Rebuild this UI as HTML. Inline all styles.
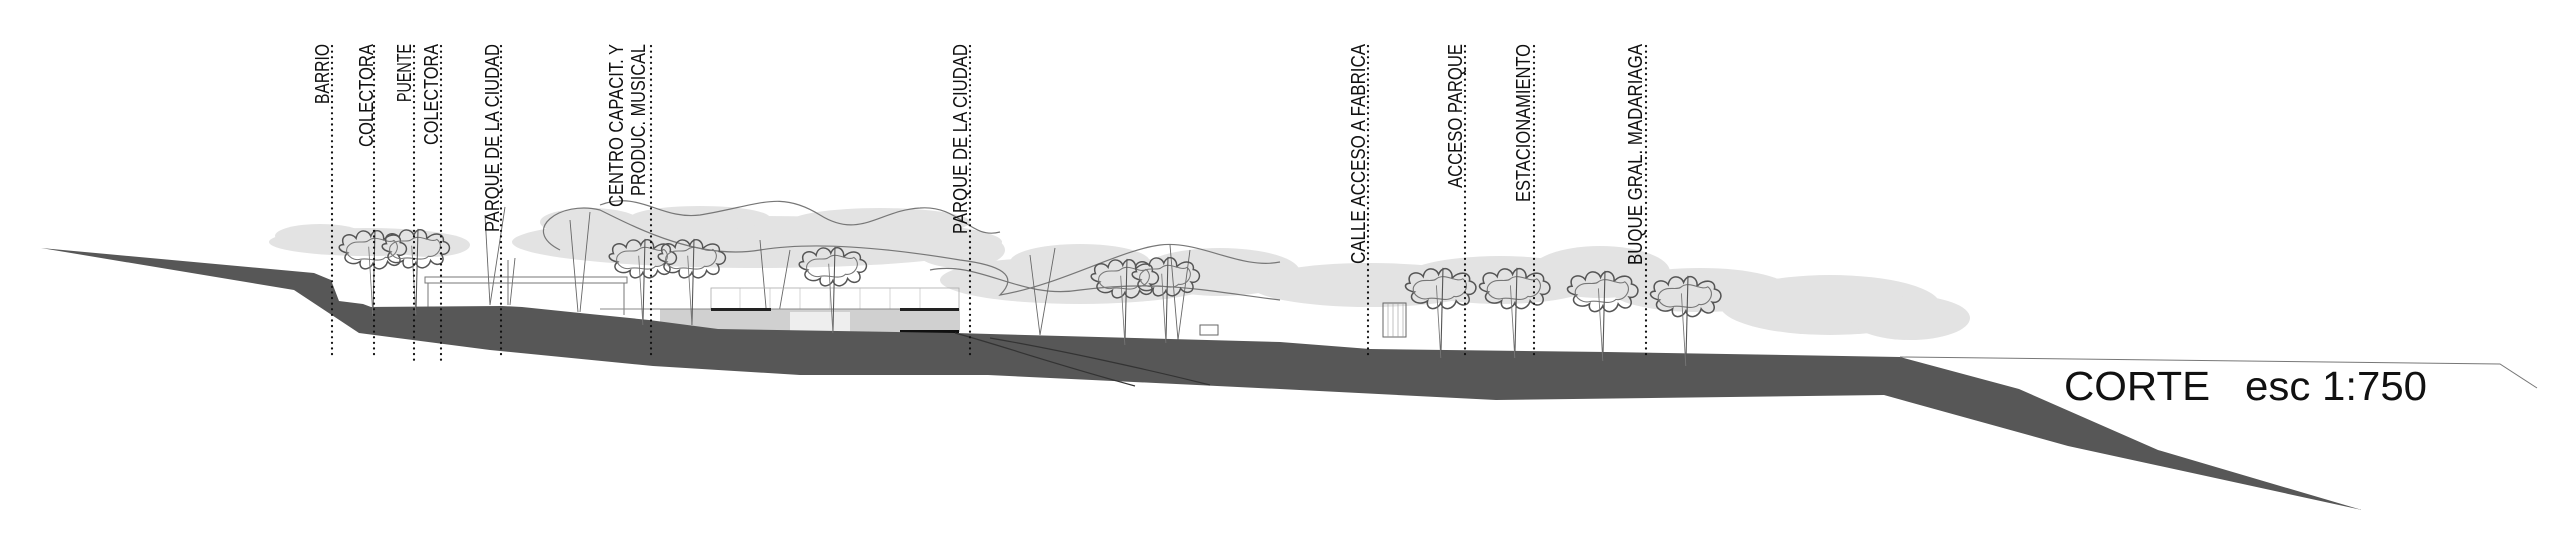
<!DOCTYPE html>
<html><head><meta charset="utf-8"><style>
html,body{margin:0;padding:0;background:#fff;}
svg{display:block}
.lb{font-family:"Liberation Sans",sans-serif;font-size:20px;fill:#111;}
</style></head><body>
<svg width="2560" height="555" viewBox="0 0 2560 555" xmlns="http://www.w3.org/2000/svg">
<defs>
<g id="tr">
<path d="M-30,-8 C-34,-18 -22,-20 -18,-14 C-16,-24 -6,-22 -4,-16 C0,-26 10,-20 8,-12 C14,-20 26,-18 24,-10 C34,-8 30,4 22,2 C28,10 18,16 12,8 C10,16 0,18 -2,10 C-6,18 -16,16 -14,8 C-22,14 -34,6 -26,0 C-36,-2 -36,-8 -30,-8 Z" fill="none" stroke="#555" stroke-width="1.4"/>
<path d="M-26,-6 C-20,-14 -10,-8 -6,-12 C2,-18 12,-8 18,-12 C26,-6 18,6 10,4 C4,10 -6,4 -14,6 C-22,8 -30,0 -26,-6 Z" fill="none" stroke="#777" stroke-width="1"/>
<line x1="0" y1="-22" x2="-2" y2="60" stroke="#555" stroke-width="1"/>
<line x1="-6" y1="-6" x2="-2" y2="60" stroke="#777" stroke-width="0.8"/>
</g>
</defs>
<g fill="#e3e3e3">
<ellipse cx="367" cy="242" rx="98" ry="14"/>
<ellipse cx="320" cy="236" rx="45" ry="12"/>
<ellipse cx="430" cy="245" rx="40" ry="12"/>
<ellipse cx="757" cy="242" rx="245" ry="26"/>
<ellipse cx="590" cy="222" rx="50" ry="14"/>
<ellipse cx="700" cy="218" rx="70" ry="12"/>
<ellipse cx="880" cy="222" rx="90" ry="14"/>
<ellipse cx="960" cy="250" rx="45" ry="18"/>
<ellipse cx="1080" cy="280" rx="140" ry="24"/>
<ellipse cx="1080" cy="262" rx="70" ry="18"/>
<ellipse cx="1220" cy="272" rx="80" ry="24"/>
<ellipse cx="1370" cy="285" rx="120" ry="22"/>
<ellipse cx="1500" cy="280" rx="100" ry="24"/>
<ellipse cx="1600" cy="272" rx="70" ry="26"/>
<ellipse cx="1700" cy="290" rx="90" ry="22"/>
<ellipse cx="1830" cy="305" rx="110" ry="30"/>
<ellipse cx="1910" cy="318" rx="60" ry="22"/>
</g>
<g fill="none" stroke="#777" stroke-width="1.2">
<path d="M600,205 C640,190 660,220 700,215 C760,205 780,190 820,215 C860,240 880,210 920,208 C960,205 970,240 1000,232"/>
<path d="M560,250 C520,230 560,200 600,210 C640,230 700,260 760,250 C820,240 900,250 960,260 C1000,265 1020,275 1000,295 C1060,285 1120,250 1160,245 C1200,240 1240,270 1280,262"/>
<path d="M930,270 C980,260 1020,300 1080,290 C1160,280 1200,290 1280,300"/>
</g>
<g stroke="#666" stroke-width="0.9">
<line x1="485" y1="215" x2="490" y2="305"/><line x1="505" y1="207" x2="490" y2="305"/>
<line x1="508" y1="260" x2="508" y2="305"/><line x1="515" y1="258" x2="510" y2="305"/>
<line x1="570" y1="220" x2="578" y2="312"/><line x1="590" y1="212" x2="580" y2="312"/>
<line x1="760" y1="240" x2="768" y2="330"/><line x1="790" y1="250" x2="776" y2="330"/>
<line x1="1030" y1="255" x2="1040" y2="335"/><line x1="1055" y1="248" x2="1040" y2="335"/>
<line x1="1170" y1="245" x2="1178" y2="340"/><line x1="1190" y1="250" x2="1178" y2="340"/>
</g>
<g fill="none" stroke="#777" stroke-width="1">
<rect x="425" y="277" width="202" height="6"/>
<line x1="428" y1="283" x2="428" y2="307"/><line x1="624" y1="283" x2="624" y2="315"/>
</g>
<rect x="660" y="309" width="300" height="23" fill="#d0d0d0"/>
<rect x="790" y="312" width="60" height="20" fill="#eee"/>
<rect x="711" y="288" width="248" height="21" fill="none" stroke="#aaa" stroke-width="0.8"/>
<g stroke="#bbb" stroke-width="0.6"><line x1="740" y1="288" x2="740" y2="309"/><line x1="770" y1="288" x2="770" y2="309"/><line x1="800" y1="288" x2="800" y2="309"/><line x1="830" y1="288" x2="830" y2="309"/><line x1="860" y1="288" x2="860" y2="309"/><line x1="890" y1="288" x2="890" y2="309"/><line x1="920" y1="288" x2="920" y2="309"/></g>
<line x1="600" y1="309" x2="959" y2="309" stroke="#888" stroke-width="1"/>
<rect x="711" y="308" width="60" height="3" fill="#222"/>
<rect x="900" y="308" width="59" height="3" fill="#222"/>
<rect x="900" y="330" width="59" height="3" fill="#111"/>
<polygon fill="#575757" points="41,248 314,273 331,280 339,301 363,304 371,307 502,306 522,307 580,313 649,320 718,329 955,333 1280,342 1370,349 1607,352 1900,357 2019,389 2158,450 2362,510 2068,446 1884,395 1496,400 1280,389 988,375 800,375 653,366 490,350 359,333 294,290"/>
<path d="M955,333 C1000,345 1040,360 1135,386 M990,338 C1060,350 1150,370 1210,385" stroke="#333" stroke-width="1.2" fill="none"/>
<polyline points="1900,357 2500,364 2537,388" fill="none" stroke="#777" stroke-width="1"/>
<rect x="1383" y="303" width="23" height="34" fill="none" stroke="#666" stroke-width="1"/>
<g stroke="#999" stroke-width="0.6"><line x1="1388" y1="303" x2="1388" y2="337"/><line x1="1393" y1="303" x2="1393" y2="337"/><line x1="1398" y1="303" x2="1398" y2="337"/><line x1="1403" y1="303" x2="1403" y2="337"/></g>
<rect x="1200" y="325" width="18" height="10" fill="none" stroke="#666"/>
<use href="#tr" transform="translate(375,253) scale(1.05)"/>
<use href="#tr" transform="translate(418,252) scale(1.05)"/>
<use href="#tr" transform="translate(645,262) scale(1.05)"/>
<use href="#tr" transform="translate(694,262) scale(1.05)"/>
<use href="#tr" transform="translate(835,270) scale(1.05)"/>
<use href="#tr" transform="translate(1127,282) scale(1.05)"/>
<use href="#tr" transform="translate(1168,280) scale(1.05)"/>
<use href="#tr" transform="translate(1443,292) scale(1.1)"/>
<use href="#tr" transform="translate(1517,292) scale(1.1)"/>
<use href="#tr" transform="translate(1605,295) scale(1.1)"/>
<use href="#tr" transform="translate(1688,300) scale(1.1)"/>
<g stroke="#111" stroke-width="2.2" stroke-linecap="round" stroke-dasharray="0.1 5.5">
<line x1="332" y1="46" x2="332" y2="356"/>
<line x1="374" y1="46" x2="374" y2="356"/>
<line x1="414" y1="46" x2="414" y2="361"/>
<line x1="441" y1="46" x2="441" y2="361"/>
<line x1="501" y1="46" x2="501" y2="356"/>
<line x1="651" y1="46" x2="651" y2="356"/>
<line x1="970" y1="46" x2="970" y2="356"/>
<line x1="1368" y1="46" x2="1368" y2="356"/>
<line x1="1465" y1="46" x2="1465" y2="356"/>
<line x1="1534" y1="46" x2="1534" y2="356"/>
<line x1="1646" y1="46" x2="1646" y2="356"/>
</g>
<g class="lb">
<text transform="translate(329,104) rotate(-90)" textLength="60" lengthAdjust="spacingAndGlyphs">BARRIO</text>
<text transform="translate(373,147) rotate(-90)" textLength="103" lengthAdjust="spacingAndGlyphs">COLECTORA</text>
<text transform="translate(411,102) rotate(-90)" textLength="58" lengthAdjust="spacingAndGlyphs">PUENTE</text>
<text transform="translate(438,145) rotate(-90)" textLength="101" lengthAdjust="spacingAndGlyphs">COLECTORA</text>
<text transform="translate(499,232) rotate(-90)" textLength="188" lengthAdjust="spacingAndGlyphs">PARQUE DE LA CIUDAD</text>
<text transform="translate(623,207) rotate(-90)" textLength="163" lengthAdjust="spacingAndGlyphs">CENTRO CAPACIT. Y</text>
<text transform="translate(645,196) rotate(-90)" textLength="152" lengthAdjust="spacingAndGlyphs">PRODUC. MUSICAL</text>
<text transform="translate(967,234) rotate(-90)" textLength="190" lengthAdjust="spacingAndGlyphs">PARQUE DE LA CIUDAD</text>
<text transform="translate(1365,264) rotate(-90)" textLength="220" lengthAdjust="spacingAndGlyphs">CALLE ACCESO A FABRICA</text>
<text transform="translate(1462,188) rotate(-90)" textLength="144" lengthAdjust="spacingAndGlyphs">ACCESO PARQUE</text>
<text transform="translate(1530,202) rotate(-90)" textLength="158" lengthAdjust="spacingAndGlyphs">ESTACIONAMIENTO</text>
<text transform="translate(1642,265) rotate(-90)" textLength="221" lengthAdjust="spacingAndGlyphs">BUQUE GRAL. MADARIAGA</text>
</g>
<text x="2064" y="400" font-family="'Liberation Sans Narrow','Liberation Sans',sans-serif" font-size="41" fill="#111" textLength="363" lengthAdjust="spacingAndGlyphs" xml:space="preserve">CORTE   esc 1:750</text>
</svg>
</body></html>
